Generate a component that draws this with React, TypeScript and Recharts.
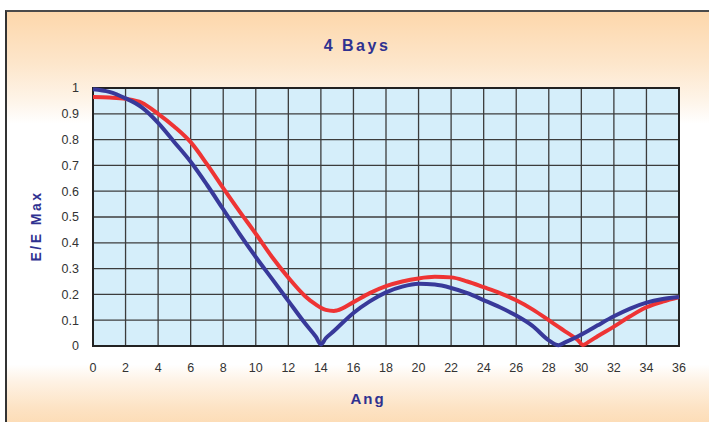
import React from 'react';
import { LineChart, Line, XAxis, YAxis, CartesianGrid, ReferenceArea } from 'recharts';

const angles = [0, 1, 2, 3, 4, 5, 6, 7, 8, 9, 10, 11, 12, 13, 13.7, 14, 14.3, 14.8, 15, 16, 17, 18, 19, 20, 21, 22, 23, 24, 25, 26, 27, 28, 28.6, 29, 29.8, 30.1, 30.5, 31, 32, 33, 34, 35, 36];
const blueValues = [0.995, 0.985, 0.96, 0.925, 0.865, 0.79, 0.714, 0.625, 0.53, 0.435, 0.345, 0.26, 0.175, 0.09, 0.035, 0.006, 0.03, 0.058, 0.07, 0.128, 0.173, 0.208, 0.23, 0.241, 0.238, 0.225, 0.205, 0.178, 0.15, 0.118, 0.078, 0.022, 0.003, 0.014, 0.038, 0.048, 0.062, 0.08, 0.115, 0.145, 0.168, 0.182, 0.19];
const redValues = [0.965, 0.963, 0.958, 0.943, 0.9, 0.85, 0.79, 0.705, 0.612, 0.522, 0.435, 0.345, 0.265, 0.195, 0.16, 0.148, 0.14, 0.136, 0.138, 0.17, 0.205, 0.232, 0.25, 0.262, 0.268, 0.266, 0.25, 0.228, 0.205, 0.177, 0.142, 0.1, 0.074, 0.057, 0.022, 0.004, 0.018, 0.038, 0.075, 0.115, 0.15, 0.172, 0.19];
const xTicks = [0, 2, 4, 6, 8, 10, 12, 14, 16, 18, 20, 22, 24, 26, 28, 30, 32, 34, 36];
const yTicks = [0, 0.1, 0.2, 0.3, 0.4, 0.5, 0.6, 0.7, 0.8, 0.9, 1];
const title = '4 Bays';
const xTitle = 'Ang';
const yTitle = 'E/E Max';

const data = angles.map((a, i) => ({ ang: a, blue: blueValues[i], red: redValues[i] }));

const navy = '#2f3190';
const labelFont = '"Liberation Sans", Arial, sans-serif';
const tickStyle = { fontSize: 12.5, fill: '#333', fontFamily: labelFont };

export default function App() {
  return (
    <div style={{ position: 'absolute', left: 0, top: 0, width: 709, height: 422, overflow: 'hidden', background: '#fff' }}>
      <div
        style={{
          position: 'absolute',
          left: 5,
          top: 10,
          width: 720,
          height: 430,
          borderTop: '2px solid #4a4a4a',
          borderLeft: '2px solid #333',
          background:
            'linear-gradient(to bottom, #fdd7ab 0%, #fde6cb 12%, #fef5ea 21%, #ffffff 26%, #ffffff 82%, #fef2e4 86%, #fde3c4 92%, #fcd4a6 100%)',
        }}
      />
      <div
        style={{
          position: 'absolute',
          left: 0,
          width: 714,
          top: 37,
          textAlign: 'center',
          fontFamily: labelFont,
          fontWeight: 'bold',
          fontSize: 16,
          letterSpacing: 2.5,
          color: navy,
        }}
      >
        {title}
      </div>
      <div
        style={{
          position: 'absolute',
          left: 368,
          top: 390,
          transform: 'translateX(-50%)',
          fontFamily: labelFont,
          fontWeight: 'bold',
          fontSize: 15,
          letterSpacing: 2,
          color: navy,
          whiteSpace: 'nowrap',
        }}
      >
        {xTitle}
      </div>
      <div
        style={{
          position: 'absolute',
          left: 36,
          top: 226,
          transform: 'translate(-50%, -50%) rotate(-90deg)',
          fontFamily: labelFont,
          fontWeight: 'bold',
          fontSize: 14,
          letterSpacing: 2.5,
          color: navy,
          whiteSpace: 'nowrap',
        }}
      >
        {yTitle}
      </div>
      <div style={{ position: 'absolute', left: 0, top: 0 }}>
        <LineChart width={709} height={422} data={data} margin={{ top: 88, right: 30, bottom: 46, left: 33 }}>
          <CartesianGrid fill="#d5eefa" stroke="#3c3c3c" strokeWidth={1.3} horizontalValues={yTicks} verticalValues={xTicks} />
          <XAxis
            type="number"
            dataKey="ang"
            domain={[0, 36]}
            ticks={xTicks}
            interval={0}
            tick={tickStyle}
            tickLine={false}
            axisLine={false}
            tickSize={6}
            tickMargin={11}
            height={30}
          />
          <YAxis
            type="number"
            domain={[0, 1]}
            ticks={yTicks}
            interval={0}
            tick={tickStyle}
            tickLine={false}
            axisLine={false}
            tickSize={6}
            tickMargin={8}
            width={60}
          />
          <ReferenceArea x1={0} x2={36} y1={0} y2={1} fill="none" stroke="#222" strokeWidth={2} ifOverflow="visible" />
          <Line type="monotone" dataKey="red" stroke="#ee3434" strokeWidth={4} dot={false} isAnimationActive={false} />
          <Line type="monotone" dataKey="blue" stroke="#38399a" strokeWidth={4} dot={false} isAnimationActive={false} />
        </LineChart>
      </div>
    </div>
  );
}
